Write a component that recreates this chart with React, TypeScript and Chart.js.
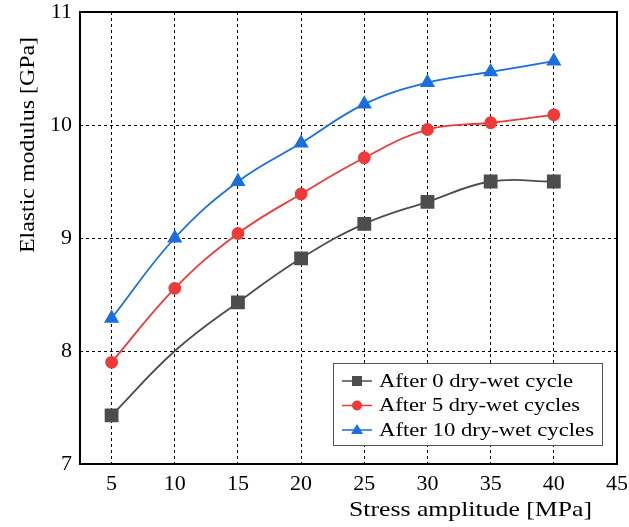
import React, { useEffect, useRef } from "react";
import { Chart, registerables } from "chart.js";

Chart.register(...registerables);

const stress = [5, 10, 15, 20, 25, 30, 35, 40];
const xTicks = [5, 10, 15, 20, 25, 30, 35, 40, 45];
const cycle0 = [7.43, 8.0, 8.43, 8.82, 9.125, 9.32, 9.5, 9.5];
const cycle5 = [7.9, 8.555, 9.04, 9.39, 9.71, 9.96, 10.02, 10.09];
const cycle10 = [8.29, 9.0, 9.5, 9.84, 10.185, 10.375, 10.47, 10.565];
const cycle0Markers = [1, 0, 1, 1, 1, 1, 1, 1];
const seriesLabels = [
  "After 0 dry-wet cycle",
  "After 5 dry-wet cycles",
  "After 10 dry-wet cycles",
];
const xTitle = "Stress amplitude [MPa]";
const yTitle = "Elastic modulus [GPa]";

const COLORS = ["#4d4d4d", "#ef3a3a", "#1a6ee0"];
const FONT = "'Liberation Serif', 'DejaVu Serif', serif";

function fitText(ctx: any, text: string, x: number, y: number, w: number) {
  const m = ctx.measureText(text).width;
  ctx.save();
  ctx.translate(x, y);
  ctx.scale(w / m, 1);
  ctx.fillText(text, 0, 0);
  ctx.restore();
}

const overlay = {
  id: "overlay",
  afterDraw(chart: any) {
    const ctx = chart.ctx;
    const a = chart.chartArea;
    ctx.save();
    ctx.strokeStyle = "#000";
    ctx.lineWidth = 2;
    ctx.strokeRect(a.left, a.top, a.right - a.left, a.bottom - a.top);
    ctx.fillStyle = "#000";
    ctx.font = `22px ${FONT}`;
    ctx.textAlign = "left";
    ctx.textBaseline = "middle";
    fitText(ctx, xTitle, 349, 510, 243);
    ctx.save();
    ctx.translate(28, 253);
    ctx.rotate(-Math.PI / 2);
    fitText(ctx, yTitle, 0, 0, 216);
    ctx.restore();
    // legend
    const bx = 333, by = 363, bw = 269, bh = 82;
    ctx.fillStyle = "#fff";
    ctx.fillRect(bx, by, bw, bh);
    ctx.strokeStyle = "#555";
    ctx.lineWidth = 1;
    ctx.strokeRect(bx + 0.5, by + 0.5, bw, bh);
    ctx.font = `19px ${FONT}`;
    const rows = [381, 405.5, 430];
    const widths = [194, 201, 215];
    chart.data.datasets.forEach((ds: any, i: number) => {
      const y = rows[i];
      ctx.strokeStyle = ds.borderColor;
      ctx.lineWidth = 1.5;
      ctx.beginPath();
      ctx.moveTo(342, y);
      ctx.lineTo(372, y);
      ctx.stroke();
      ctx.fillStyle = ds.borderColor;
      const cx = 357;
      ctx.beginPath();
      if (i === 0) ctx.rect(cx - 5, y - 5, 10, 10);
      else if (i === 1) ctx.arc(cx, y, 5, 0, Math.PI * 2);
      else {
        ctx.moveTo(cx, y - 6);
        ctx.lineTo(cx + 6, y + 4);
        ctx.lineTo(cx - 6, y + 4);
        ctx.closePath();
      }
      ctx.fill();
      ctx.fillStyle = "#000";
      fitText(ctx, ds.label, 379, y + 1, widths[i]);
    });
    ctx.restore();
  },
};

export default function App() {
  const ref = useRef<HTMLCanvasElement>(null);
  useEffect(() => {
    document.body.style.margin = "0";
    const mk = (vals: number[]) => stress.map((x, i) => ({ x, y: vals[i] }));
    const chart = new Chart(ref.current!, {
      type: "line",
      data: {
        datasets: [
          {
            label: seriesLabels[0],
            data: mk(cycle0),
            borderColor: COLORS[0],
            backgroundColor: COLORS[0],
            pointStyle: "rect",
            pointRadius: cycle0Markers.map((m) => (m ? 8.5 : 0)),
            borderWidth: 1.8,
            tension: 0.4,
          },
          {
            label: seriesLabels[1],
            data: mk(cycle5),
            borderColor: COLORS[1],
            backgroundColor: COLORS[1],
            pointStyle: "circle",
            pointRadius: 5.5,
            borderWidth: 1.8,
            tension: 0.4,
          },
          {
            label: seriesLabels[2],
            data: mk(cycle10),
            borderColor: COLORS[2],
            backgroundColor: COLORS[2],
            pointStyle: "triangle",
            pointRadius: 7,
            borderWidth: 1.8,
            tension: 0.4,
          },
        ],
      },
      options: {
        responsive: false,
        animation: false,
        layout: { padding: { top: 12, right: 12, left: 0, bottom: 0 } },
        plugins: { legend: { display: false }, tooltip: { enabled: false } },
        scales: {
          x: {
            type: "linear",
            min: 2.5,
            max: 45,
            afterBuildTicks: (s: any) => {
              s.ticks = xTicks.map((v) => ({ value: v }));
            },
            afterFit: (s: any) => {
              s.height = 63;
              s.paddingLeft = 0;
              s.paddingRight = 0;
            },
            grid: { color: "#000", lineWidth: 1, drawTicks: false },
            border: { display: false, dash: [3, 3] },
            ticks: {
              color: "#000",
              font: { family: FONT, size: 22 },
              padding: 7,
              maxRotation: 0,
              autoSkip: false,
            },
          },
          y: {
            min: 7,
            max: 11,
            afterFit: (s: any) => {
              s.width = 80;
              s.paddingTop = 0;
              s.paddingBottom = 0;
            },
            grid: { color: "#000", lineWidth: 1, drawTicks: false },
            border: { display: false, dash: [3, 3] },
            ticks: {
              color: "#000",
              stepSize: 1,
              font: { family: FONT, size: 22 },
              padding: 8,
            },
          },
        },
      },
      plugins: [overlay],
    });
    return () => chart.destroy();
  }, []);
  return (
    <div style={{ width: 629, height: 527 }}>
      <canvas ref={ref} width={629} height={527} />
    </div>
  );
}
